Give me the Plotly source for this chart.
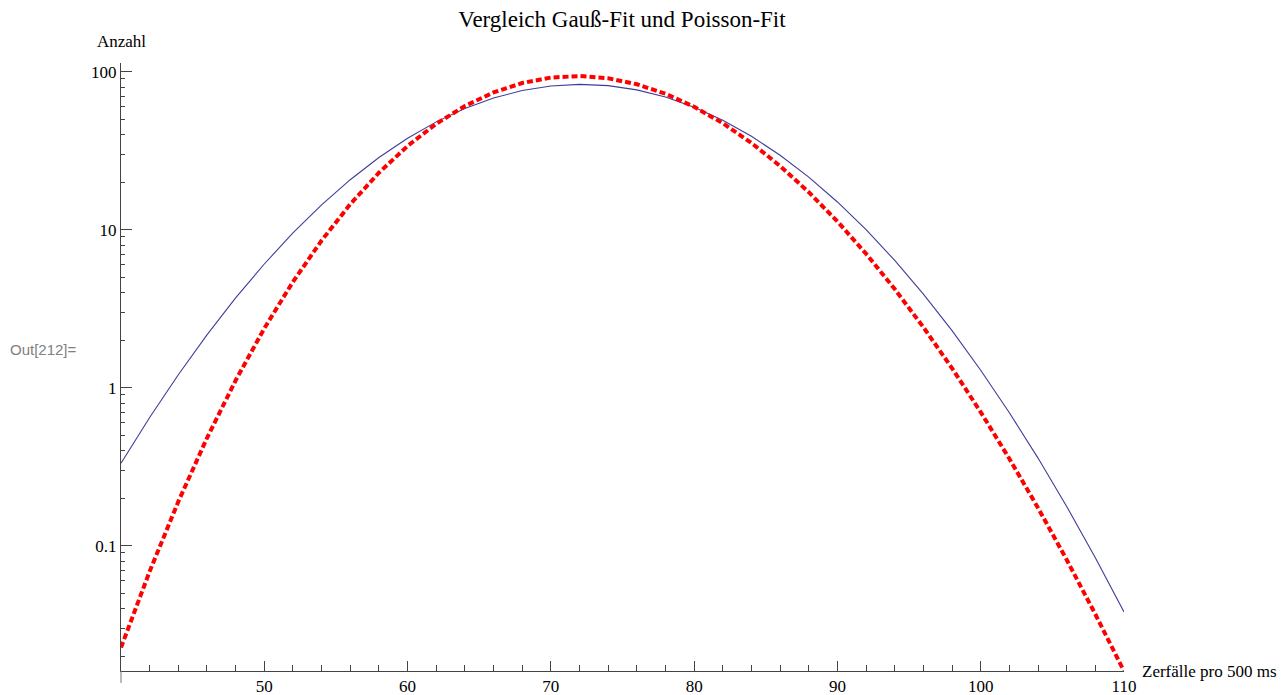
import plotly.graph_objects as go

# Zerfälle pro 500 ms (x values)
x_vals = list(range(40, 111, 2))

# Gauß-Fit (blue, thin solid line)
gauss_vals = [0.3323, 0.6475, 1.208, 2.160, 3.698, 6.066, 9.535, 14.36, 20.72, 28.64,
              37.93, 48.13, 58.48, 68.11, 75.98, 81.21, 83.18, 81.61, 76.70, 69.08,
              59.60, 49.27, 39.02, 29.60, 21.51, 14.98, 9.995, 6.391, 3.913, 2.296,
              1.290, 0.6949, 0.3585, 0.1772, 0.0839, 0.0381]

# Poisson-Fit (red, thick dashed line)
poisson_vals = [0.02266, 0.0688, 0.1901, 0.4802, 1.112, 2.373, 4.677, 8.543, 14.50, 22.93,
                33.85, 46.80, 60.66, 73.91, 84.80, 91.79, 93.86, 90.83, 83.27, 72.49,
                59.97, 47.18, 35.38, 25.30, 17.28, 11.27, 7.039, 4.208, 2.413, 1.327,
                0.7004, 0.3553, 0.1734, 0.08146, 0.03684, 0.01606]

x_tick_vals = [50, 60, 70, 80, 90, 100, 110]
y_tick_vals = [0.1, 1, 10, 100]
y_tick_text = ["0.1", "1", "10", "100"]

title_text = "Vergleich Gauß-Fit und Poisson-Fit"
x_label = "Zerfälle pro 500 ms"
y_label = "Anzahl"
out_label = "Out[212]="

# the page body adds an 8px margin, so the figure is a little smaller
W, H = 1272, 687
ML, MR, MT, MB = 113, 156, 55, 24
plot_w = W - ML - MR
plot_h = H - MT - MB

serif = "Liberation Serif, Times New Roman, serif"
axis_col = "#444444"

fig = go.Figure()
fig.add_trace(go.Scatter(x=x_vals, y=gauss_vals, mode="lines",
                         line=dict(color="#3d3d99", width=1.1),
                         name="Gauß", showlegend=False, hoverinfo="skip"))
fig.add_trace(go.Scatter(x=x_vals, y=poisson_vals, mode="lines",
                         line=dict(color="#ff0000", width=4, dash="6px,3px"),
                         name="Poisson", showlegend=False, hoverinfo="skip"))

minor_y = [m * 10.0 ** e for e in (-2, -1, 0, 1) for m in range(2, 10)]

fig.update_layout(
    width=W, height=H,
    margin=dict(l=ML, r=MR, t=MT, b=MB, autoexpand=False),
    paper_bgcolor="white", plot_bgcolor="white",
    font=dict(family=serif, size=17, color="black"),
    title=dict(text=title_text, x=614 / W, xanchor="center",
               y=1 - 11 / H, yanchor="middle",
               font=dict(family=serif, size=23, color="black")),
    xaxis=dict(range=[40, 110], showgrid=False, zeroline=False,
               showline=True, linecolor=axis_col, linewidth=1,
               tickmode="array", tickvals=x_tick_vals,
               ticks="inside", ticklen=10, tickcolor=axis_col, tickwidth=1,
               ticklabelstandoff=0,
               tickfont=dict(family=serif, size=17, color="black"),
               minor=dict(tick0=40, dtick=2, ticks="inside", ticklen=6,
                          tickcolor=axis_col, tickwidth=1, showgrid=False)),
    yaxis=dict(type="log", range=[-1.793, 2.055], showgrid=False, zeroline=False,
               showline=True, linecolor=axis_col, linewidth=1,
               tickmode="array", tickvals=y_tick_vals, ticktext=y_tick_text,
               ticks="inside", ticklen=11, tickcolor=axis_col, tickwidth=1,
               tickfont=dict(family=serif, size=17, color="black"),
               minor=dict(tickmode="array", tickvals=minor_y, ticks="inside",
                          ticklen=4, tickcolor=axis_col, tickwidth=1, showgrid=False)),
)

# y axis continues a little below the x axis
fig.add_shape(type="line", xref="paper", yref="paper", x0=0, x1=0,
              y0=0, y1=-12 / plot_h, line=dict(color="#777777", width=1))

fig.add_annotation(text=x_label, xref="paper", yref="paper",
                   x=(1132 - ML) / plot_w, y=0, xanchor="left", yanchor="middle",
                   showarrow=False, font=dict(family=serif, size=17, color="black"))
fig.add_annotation(text=y_label, xref="paper", yref="paper",
                   x=0, y=(H - MB - 34) / plot_h, xanchor="center", yanchor="middle",
                   showarrow=False, font=dict(family=serif, size=17, color="black"))
fig.add_annotation(text=out_label, xref="paper", yref="paper",
                   x=-ML / plot_w, y=(H - MB - 341) / plot_h,
                   xanchor="left", yanchor="middle", showarrow=False,
                   font=dict(family="Liberation Sans, Arial, sans-serif", size=15,
                             color="#808080"))

fig.write_html("out.html")
